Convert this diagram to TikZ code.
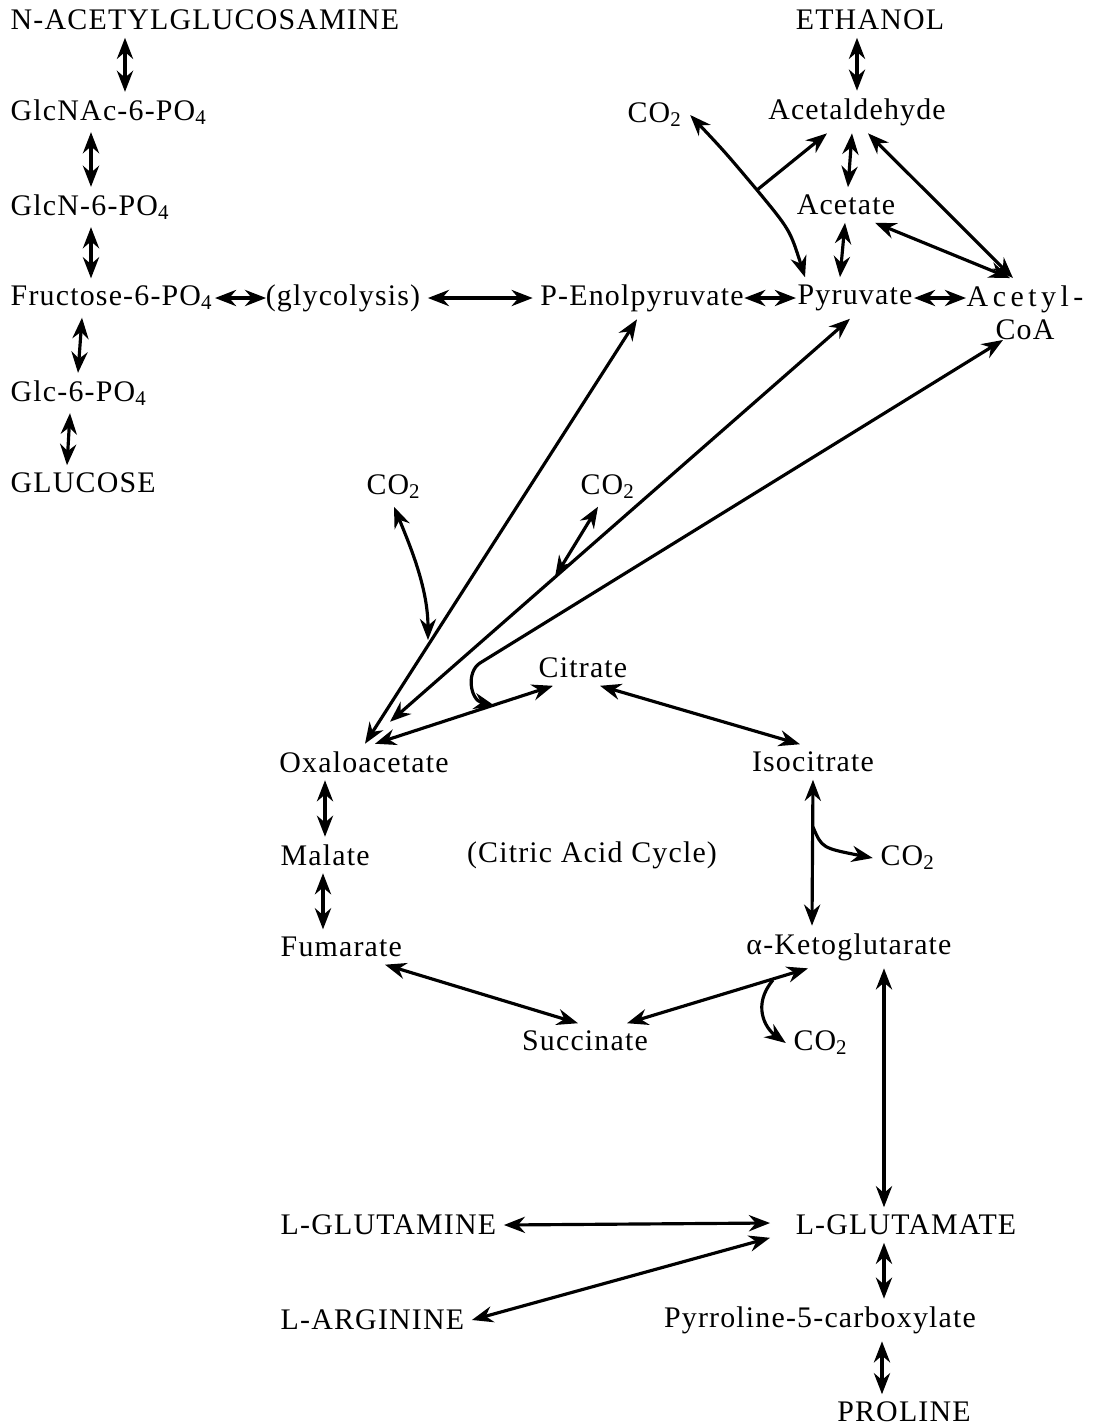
\documentclass[tikz,border=0pt]{standalone}
\usepackage{fontspec}
\setmainfont{Liberation Serif}[LetterSpace=4]
\usetikzlibrary{arrows.meta,calc}
\begin{document}
\begin{tikzpicture}[x=0.01cm,y=-0.01cm,
 every node/.style={inner sep=2pt,font=\fontsize{8.5}{9.5}\selectfont},
 lft/.style={anchor=west},
 rxn/.style={line width=0.9pt,{Stealth[length=6pt,width=4.6pt]}-{Stealth[length=6pt,width=4.6pt]}},
 fwd/.style={line width=0.9pt,-{Stealth[length=6pt,width=4.6pt]}}]
 \useasboundingbox (0,0) rectangle (1093,1426);
 \node[lft] (nag) at (3,20) {N-ACETYLGLUCOSAMINE};
 \node[lft] (glcnac) at (3,112) {GlcNAc-6-PO\textsubscript{4}};
 \node[lft] (glcn) at (3,207) {GlcN-6-PO\textsubscript{4}};
 \node[lft] (f6p) at (3,298) {Fructose-6-PO\textsubscript{4}};
 \node[lft] (g6p) at (3,393) {Glc-6-PO\textsubscript{4}};
 \node[lft] (glc) at (3,483) {GLUCOSE};
 \node (glyc) at (343,298) {(glycolysis)};
 \node (pep) at (642,298) {P-Enolpyruvate};
 \node (pyr) at (855,298) {Pyruvate};
 \node[align=center] (accoa) at (1025,313) {{\addfontfeatures{LetterSpace=15}Acetyl-}\\CoA};
 \node (etoh) at (870,20) {ETHANOL};
 \node (ald) at (857,112) {Acetaldehyde};
 \node (ace) at (846,205) {Acetate};
 \node (co2a) at (655,115) {CO\textsubscript{2}};
 \node (co2b) at (394,487) {CO\textsubscript{2}};
 \node (co2c) at (608,487) {CO\textsubscript{2}};
 \node (cit) at (583,668) {Citrate};
 \node (oaa) at (364,762) {Oxaloacetate};
 \node (icit) at (813,762) {Isocitrate};
 \node[lft] (mal) at (273,855) {Malate};
 \node (tca) at (592,855) {(Citric Acid Cycle)};
 \node (co2d) at (908,858) {CO\textsubscript{2}};
 \node[lft] (fum) at (273,947) {Fumarate};
 \node (akg) at (849,947) {α-Ketoglutarate};
 \node (suc) at (585,1041) {Succinate};
 \node (co2e) at (821,1043) {CO\textsubscript{2}};
 \node[lft] (gln) at (273,1225) {L-GLUTAMINE};
 \node (glu) at (906,1225) {L-GLUTAMATE};
 \node[lft] (arg) at (273,1320) {L-ARGININE};
 \node (p5c) at (820,1320) {Pyrroline-5-carboxylate};
 \node (pro) at (904,1412) {PROLINE};
 \draw[rxn] (nag.south -| 125,0) -- (glcnac.north -| 125,0);
 \draw[rxn] (glcnac.south -| 91,0) -- (glcn.north -| 91,0);
 \draw[rxn] (glcn.south -| 91,0) -- (f6p.north -| 91,0);
 \draw[rxn] (f6p.south -| 82,0) -- (g6p.north -| 78,0);
 \draw[rxn] (g6p.south -| 70,0) -- (glc.north -| 67,0);
 \draw[rxn] ($(f6p.east)+(-6,0)$) -- ($(glyc.west)+(8,0)$);
 \draw[rxn] (glyc) -- (pep);
 \draw[rxn] ($(pep.east)+(-7,0)$) -- ($(pyr.west)+(6,0)$);
 \draw[rxn] ($(pyr.east)+(-6,0)$) -- ($(pyr -| accoa.west)+(7,0)$);
 \draw[rxn] (etoh.south -| ald.north) -- (ald.north);
 \draw[rxn] (ald.south -| 852,0) -- (ace.north -| 848,0);
 \draw[rxn] (ace.south -| 845,0) -- (pyr.north -| 840,0);
 \draw[rxn] (accoa.north -| 1013,0) -- (ald.south -| 868,0);
 \draw[rxn] (accoa.north -| 1010,0) -- (ace.south -| 875,0);
 \coordinate (pdc) at (757,190);
 \draw[rxn] (co2a.east) .. controls (725,152) .. (pdc) .. controls (790,230) .. (pyr.north -| 805,0);
 \draw[fwd] (pdc) -- (ald.south -| 827,0);
 \draw[rxn] (pep.south -| 637,0) -- (oaa.north -| 365,0);
 \draw[rxn] (pyr.south -| 850,0) -- ($(oaa.north)+(26,-22)$);
 \coordinate (csy) at (495,706);
 \draw[rxn] ($(accoa.south)+(-22,-8)$) -- (480,663) .. controls (466,672) and (470,700) .. (csy);
 \draw[rxn] ($(oaa.north)+(11,0)$) -- (cit.south -| 553,0);
 \coordinate (ppc) at (428,640);
 \draw[rxn] (co2b.south) .. controls (412,550) and (428,590) .. (ppc);
 \coordinate (pc) at (555,577);
 \draw[rxn] (co2c.south -| 598,0) -- (pc);
 \draw[rxn] (cit.south -| 600,0) -- (icit.north -| 800,0);
 \draw[rxn] (oaa.south -| 325,0) -- (mal.north -| 325,0);
 \draw[rxn] (mal.south -| 323,0) -- (fum.north -| 323,0);
 \draw[rxn] (icit.south -| 813,0) -- (akg.north -| 812,0);
 \coordinate (idh) at (813,827);
 \draw[fwd] (idh) .. controls (822,848) .. (co2d.west);
 \draw[rxn] (akg.south -| 808,0) -- (suc.north -| 627,0);
 \draw[rxn] (fum.south -| 385,0) -- (suc.north -| 578,0);
 \coordinate (kgd) at (773,980);
 \draw[fwd] (kgd) .. controls (752,1005) and (765,1028) .. (co2e.west);
 \draw[rxn] (akg.south -| 884,0) -- (glu.north -| 884,0);
 \draw[rxn] (gln.east) -- ($(glu.west)+(-18,-2)$);
 \draw[rxn] (arg.east) -- ($(glu.south west)+(-18,-5)$);
 \draw[rxn] (glu.south -| 884,0) -- (p5c.north -| 884,0);
 \draw[rxn] (p5c.south -| 882,0) -- (pro.north -| 882,0);
\end{tikzpicture}
\end{document}
